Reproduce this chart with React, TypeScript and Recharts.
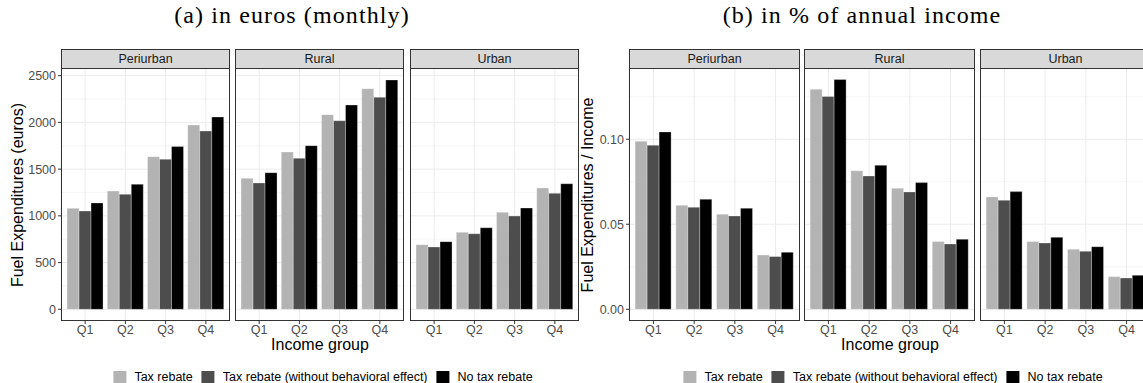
import { BarChart, Bar, XAxis, YAxis, CartesianGrid } from "recharts";

const quintiles = ["Q1", "Q2", "Q3", "Q4"];
const areas = ["Periurban", "Rural", "Urban"];
const seriesNames = ["Tax rebate", "Tax rebate (without behavioral effect)", "No tax rebate"];
const seriesColors = ["#b3b3b3", "#4d4d4d", "#000000"];

// monthly fuel expenditures in euros, one row per area (Periurban, Rural, Urban)
const eurosRebate = [
  [1081, 1266, 1633, 1972],
  [1402, 1683, 2083, 2361],
  [691, 824, 1038, 1298],
];
const eurosRebateNoBehav = [
  [1052, 1231, 1605, 1908],
  [1352, 1616, 2018, 2269],
  [667, 809, 998, 1241],
];
const eurosNoRebate = [
  [1138, 1338, 1741, 2058],
  [1462, 1751, 2186, 2454],
  [724, 873, 1084, 1344],
];

// fuel expenditures / annual income
const shareRebate = [
  [0.0988, 0.0612, 0.0559, 0.0319],
  [0.1294, 0.0814, 0.0712, 0.0398],
  [0.0661, 0.0398, 0.0353, 0.0192],
];
const shareRebateNoBehav = [
  [0.0965, 0.06, 0.0549, 0.031],
  [0.1251, 0.0784, 0.069, 0.0384],
  [0.0641, 0.039, 0.0341, 0.0184],
];
const shareNoRebate = [
  [0.1043, 0.0647, 0.0594, 0.0335],
  [0.1351, 0.0847, 0.0745, 0.0412],
  [0.0692, 0.0423, 0.0368, 0.02],
];

const eurosTicks = [0, 500, 1000, 1500, 2000, 2500];
const eurosMinor = [250, 750, 1250, 1750, 2250];
const shareTicks = [0, 0.05, 0.1];
const shareMinor = [0.025, 0.075, 0.125];

const FONT = "'Liberation Sans', Arial, sans-serif";
const STRIP_TOP = 49;
const PANEL_TOP = 68;
const PANEL_H = 253;

function buildRows(a: number[][], b: number[][], c: number[][], i: number) {
  return quintiles.map((q, j) => ({ q, rebate: a[i][j], partial: b[i][j], none: c[i][j] }));
}

interface FacetProps {
  rows: { q: string; rebate: number; partial: number; none: number }[];
  label: string;
  left: number;
  width: number;
  domain: [number, number];
  ticks: number[];
  minor: number[];
  showY: boolean;
  fmt: (v: number) => string;
}

function Facet({ rows, label, left, width, domain, ticks, minor, showY, fmt }: FacetProps) {
  const u = width / 4.2;
  const yw = showY ? 45 : 0;
  return (
    <>
      <div style={{ position: "absolute", left: left - yw, top: PANEL_TOP }}>
        <BarChart
          width={width + yw}
          height={PANEL_H + 22}
          data={rows}
          margin={{ top: 0, right: 0, bottom: 0, left: 0 }}
          barCategoryGap="5%"
          barGap={0}
        >
          <CartesianGrid vertical={false} horizontalValues={minor} stroke="#f2f2f2" strokeWidth={0.7} />
          <CartesianGrid horizontalValues={ticks} stroke="#ebebeb" strokeWidth={1} />
          <XAxis
            dataKey="q"
            interval={0}
            padding={{ left: 0.1 * u, right: 0.1 * u }}
            axisLine={false}
            tickLine={{ stroke: "#333333" }}
            tickSize={3}
            tickMargin={1}
            height={22}
            tick={{ fill: "#4d4d4d", fontSize: 12.5, fontFamily: FONT }}
          />
          <YAxis
            type="number"
            domain={domain}
            ticks={ticks}
            allowDataOverflow
            hide={!showY}
            width={yw}
            axisLine={false}
            tickLine={{ stroke: "#333333" }}
            tickSize={3}
            tickMargin={2}
            tickFormatter={fmt}
            tick={{ fill: "#4d4d4d", fontSize: 12.5, fontFamily: FONT }}
          />
          <Bar dataKey="rebate" fill={seriesColors[0]} stroke="#ffffff" strokeOpacity={0.6} strokeWidth={0.5} isAnimationActive={false} />
          <Bar dataKey="partial" fill={seriesColors[1]} stroke="#ffffff" strokeOpacity={0.6} strokeWidth={0.5} isAnimationActive={false} />
          <Bar dataKey="none" fill={seriesColors[2]} stroke="#ffffff" strokeOpacity={0.6} strokeWidth={0.5} isAnimationActive={false} />
        </BarChart>
      </div>
      <div
        style={{
          position: "absolute",
          left,
          top: PANEL_TOP,
          width,
          height: PANEL_H,
          boxSizing: "border-box",
          border: "1px solid #333333",
          pointerEvents: "none",
        }}
      />
      <div
        style={{
          position: "absolute",
          left,
          top: STRIP_TOP,
          width,
          height: PANEL_TOP - STRIP_TOP + 1,
          boxSizing: "border-box",
          border: "1px solid #333333",
          background: "#d9d9d9",
          color: "#1a1a1a",
          fontSize: 12.5,
          lineHeight: `${PANEL_TOP - STRIP_TOP - 1}px`,
          textAlign: "center",
        }}
      >
        {label}
      </div>
    </>
  );
}

function Legend({ center }: { center: number }) {
  return (
    <div
      style={{
        position: "absolute",
        left: center,
        top: 370,
        transform: "translateX(-50%)",
        display: "flex",
        alignItems: "center",
        whiteSpace: "nowrap",
        fontSize: 12.5,
        color: "#000",
      }}
    >
      {seriesNames.map((name, i) => (
        <div key={name} style={{ display: "flex", alignItems: "center", marginRight: i < 2 ? 9 : 0 }}>
          <div style={{ width: 13, height: 13, background: seriesColors[i], marginRight: 8 }} />
          <span>{name}</span>
        </div>
      ))}
    </div>
  );
}

function Figure({
  title,
  titleX,
  yTitle,
  yTitleX,
  lefts,
  width,
  data,
  domain,
  ticks,
  minor,
  fmt,
}: {
  title: string;
  titleX: number;
  yTitle: string;
  yTitleX: number;
  lefts: number[];
  width: number;
  data: number[][][];
  domain: [number, number];
  ticks: number[];
  minor: number[];
  fmt: (v: number) => string;
}) {
  const panelCenter = (lefts[0] + lefts[2] + width) / 2;
  return (
    <>
      <div
        style={{
          position: "absolute",
          left: titleX,
          top: 15,
          transform: "translate(-50%, -50%)",
          fontFamily: "'Liberation Serif', 'DejaVu Serif', serif",
          fontSize: 24,
          letterSpacing: 1.1,
          lineHeight: 1,
          whiteSpace: "nowrap",
        }}
      >
        {title}
      </div>
      <div
        style={{
          position: "absolute",
          left: yTitleX,
          top: PANEL_TOP + PANEL_H / 2,
          transform: "translate(-50%, -50%) rotate(-90deg)",
          fontSize: 16,
          whiteSpace: "nowrap",
        }}
      >
        {yTitle}
      </div>
      {areas.map((area, i) => (
        <Facet
          key={area}
          rows={buildRows(data[0], data[1], data[2], i)}
          label={area}
          left={lefts[i]}
          width={width}
          domain={domain}
          ticks={ticks}
          minor={minor}
          showY={i === 0}
          fmt={fmt}
        />
      ))}
      <div
        style={{
          position: "absolute",
          left: panelCenter,
          top: 345,
          transform: "translate(-50%, -50%)",
          fontSize: 16,
          whiteSpace: "nowrap",
        }}
      >
        Income group
      </div>
      <Legend center={panelCenter + 3} />
    </>
  );
}

export default function App() {
  return (
    <div
      style={{
        position: "absolute",
        left: 0,
        top: 0,
        width: 1143,
        height: 383,
        overflow: "hidden",
        background: "#ffffff",
        fontFamily: FONT,
      }}
    >
      <Figure
        title="(a) in euros (monthly)"
        titleX={292}
        yTitle="Fuel Expenditures (euros)"
        yTitleX={18}
        lefts={[61, 235, 410]}
        width={169}
        data={[eurosRebate, eurosRebateNoBehav, eurosNoRebate]}
        domain={[-125, 2582]}
        ticks={eurosTicks}
        minor={eurosMinor}
        fmt={(v) => String(v)}
      />
      <Figure
        title="(b) in % of annual income"
        titleX={862}
        yTitle="Fuel Expenditures / Income"
        yTitleX={588}
        lefts={[629, 804, 980]}
        width={171}
        data={[shareRebate, shareRebateNoBehav, shareNoRebate]}
        domain={[-0.0069, 0.1419]}
        ticks={shareTicks}
        minor={shareMinor}
        fmt={(v) => v.toFixed(2)}
      />
    </div>
  );
}
